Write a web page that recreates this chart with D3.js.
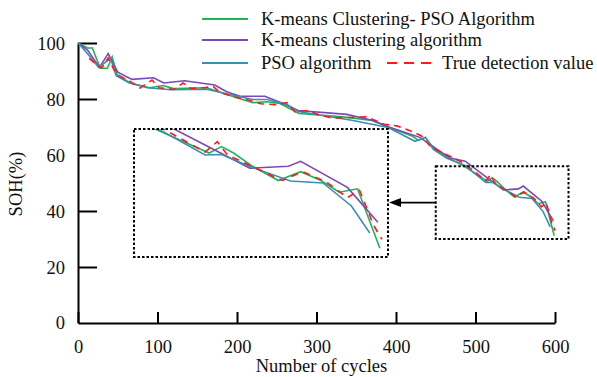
<!DOCTYPE html>
<html>
<head>
<meta charset="utf-8">
<script src="https://cdn.jsdelivr.net/npm/d3@7"></script>
<style>
  body { margin: 0; background: #fff; }
  text { font-family: "Liberation Serif", "Times New Roman", serif; fill: #111; }
  .axis path, .axis line { stroke: #000; stroke-width: 2; }
  .axis text { font-size: 18.5px; font-family: "Liberation Serif", serif; }
</style>
</head>
<body>
<svg id="chart"></svg>
<script>
// SOH estimates per cycle
const seriesNames = [
  "K-means Clustering- PSO Algorithm",
  "K-means clustering algorithm",
  "PSO algorithm",
  "True detection value",
];

const kmeansPso = [
  [0, 100], [12, 98.2], [18, 98.2], [28, 91], [37, 91], [43, 95], [49, 88.7],
  [65, 85.8], [90, 84], [107, 84.8], [120, 83.7], [162, 84], [195, 80.9],
  [220, 78.7], [238, 79], [254, 78.4], [278, 74.8], [333, 73.6], [370, 72.3],
  [390, 70], [421, 66.7], [428, 65.2], [437, 66.3], [447, 62.5], [464, 59.2],
  [484, 56.3], [515, 50.6], [521, 51.9], [527, 50.6], [536, 48], [549, 45],
  [560, 46.8], [570, 45], [579, 42.6], [588, 43.3], [599, 31.2],
];

const kmeans = [
  [0, 100], [12, 97.5], [27, 91.3], [38, 96.2], [50, 89.6], [68, 87], [95, 87.6],
  [108, 85.7], [134, 86.5], [172, 85], [187, 82.6], [204, 81], [235, 81],
  [258, 78.4], [277, 75.9], [338, 74.5], [371, 72.3], [392, 69.9], [430, 66.3],
  [468, 58.9], [487, 57.8], [522, 50.3], [535, 47.5], [554, 47.9], [560, 48.9],
  [583, 43.6], [598, 36.5],
];

const pso = [
  [0, 100], [11, 96.5], [26, 91.3], [41, 94.5], [48, 88.3], [64, 85.8], [87, 84],
  [117, 83.3], [162, 83.5], [191, 81.6], [220, 79.8], [238, 79.8], [263, 78],
  [277, 75.5], [346, 72.3], [390, 69.8], [424, 64.9], [437, 66.3], [447, 62],
  [464, 58.8], [486, 56.4], [513, 50.2], [521, 50.3], [536, 47.7], [555, 44.9],
  [571, 44.5], [585, 39.8], [594, 34.3],
];

const trueValue = [
  [14, 94.5], [25, 91.8], [30, 91.2], [38, 94.7], [45, 90.5], [52, 88.3],
  [66, 86.2], [78, 83.9], [93, 86.8], [102, 84], [121, 83.4], [132, 85.7],
  [142, 83.8], [158, 84], [170, 84.5], [178, 82.4], [195, 80.8], [212, 79.8],
  [230, 78.3], [248, 78], [263, 78.7], [273, 75.4], [289, 75.9], [303, 74.4],
  [319, 73.2], [340, 73.4], [363, 73.6], [385, 71], [401, 70.4], [421, 68.3],
  [432, 66.8], [444, 62.8], [459, 60.7], [472, 59], [488, 56.5], [513, 50.8],
  [519, 52.9], [524, 50.2], [536, 47.9], [551, 45], [561, 46.8], [573, 44.6],
  [583, 41.5], [589, 43], [596, 35.8], [600, 33],
];

const xTicks = [0, 100, 200, 300, 400, 500, 600];
const yTicks = [0, 20, 40, 60, 80, 100];

// zoom window (cycles / SOH) and its enlarged view
const zoomWindow = { x: [450, 617], y: [30, 56] };
const insetDomain = { x: [478, 603], y: [29.4, 55.5] };

const colors = ["#22b35a", "#7a48b8", "#3a90b0", "#ff1a1a"];
const allSeries = [kmeansPso, kmeans, pso, trueValue];

const width = 597, height = 377;
const margin = { top: 43, right: 42, bottom: 54, left: 78 };
const innerW = width - margin.left - margin.right;
const innerH = height - margin.top - margin.bottom;

const svg = d3.select("#chart").attr("width", width).attr("height", height);
const g = svg.append("g").attr("transform", `translate(${margin.left},${margin.top})`);

const x = d3.scaleLinear().domain([0, 600]).range([0, innerW]);
const y = d3.scaleLinear().domain([0, 100]).range([innerH, 0]);

// axes, ticks pointing inwards
g.append("g")
  .attr("class", "axis")
  .attr("transform", `translate(0,${innerH})`)
  .call(d3.axisBottom(x).tickValues(xTicks).tickSize(-11).tickSizeOuter(0).tickPadding(13))
  .call(a => a.selectAll("text").attr("dy", "0.9em"));

g.append("g")
  .attr("class", "axis")
  .call(d3.axisLeft(y).tickValues(yTicks.filter(d => d > 0)).tickSize(-19).tickSizeOuter(0).tickPadding(13))
  .call(a => a.selectAll("text").attr("dy", "0.35em"));

// "0" label on y axis (tick hidden under x axis)
g.append("text")
  .attr("x", -13).attr("y", y(0)).attr("dy", "0.35em")
  .attr("text-anchor", "end").style("font-size", "18.5px")
  .text("0");

g.append("text")
  .attr("x", innerW / 2 + 5).attr("y", innerH + 49)
  .attr("text-anchor", "middle").style("font-size", "18.5px")
  .text("Number of cycles");

g.append("text")
  .attr("transform", `translate(${-56},${innerH / 2 + 1}) rotate(-90)`)
  .attr("text-anchor", "middle").style("font-size", "18.5px")
  .text("SOH(%)");

const line = d3.line().x(d => x(d[0])).y(d => y(d[1]));

allSeries.forEach((s, i) => {
  g.append("path")
    .datum(s)
    .attr("fill", "none")
    .attr("stroke", colors[i])
    .attr("stroke-width", 1.6)
    .attr("stroke-dasharray", i === 3 ? "7,5" : null)
    .attr("d", line);
});

// small selection box on the main curves
const zx0 = x(zoomWindow.x[0]), zx1 = x(zoomWindow.x[1]);
const zy0 = y(zoomWindow.y[1]), zy1 = y(zoomWindow.y[0]);
g.append("rect")
  .attr("x", zx0).attr("y", zy0)
  .attr("width", zx1 - zx0).attr("height", zy1 - zy0)
  .attr("fill", "none").attr("stroke", "#000")
  .attr("stroke-width", 2).attr("stroke-dasharray", "2.5,2");

// inset box
const inset = { left: 134 - margin.left, top: 129 - margin.top, w: 254, h: 128 };
const ix = d3.scaleLinear().domain(insetDomain.x).range([inset.left, inset.left + inset.w]);
const iy = d3.scaleLinear().domain(insetDomain.y).range([inset.top + inset.h, inset.top]);

svg.append("defs").append("clipPath").attr("id", "inset-clip")
  .append("rect")
  .attr("x", inset.left).attr("y", inset.top)
  .attr("width", inset.w).attr("height", inset.h);

const insetLine = d3.line().x(d => ix(d[0])).y(d => iy(d[1]));
const insetG = g.append("g").attr("clip-path", "url(#inset-clip)");
allSeries.forEach((s, i) => {
  insetG.append("path")
    .datum(s)
    .attr("fill", "none")
    .attr("stroke", colors[i])
    .attr("stroke-width", 1.6)
    .attr("stroke-dasharray", i === 3 ? "7,6" : null)
    .attr("d", insetLine);
});

g.append("rect")
  .attr("x", inset.left).attr("y", inset.top)
  .attr("width", inset.w).attr("height", inset.h)
  .attr("fill", "none").attr("stroke", "#000")
  .attr("stroke-width", 2).attr("stroke-dasharray", "2.5,2");

// arrow from selection to inset
const arrowY = (zy0 + zy1) / 2;
const tipX = inset.left + inset.w + 1;
g.append("line")
  .attr("x1", zx0).attr("x2", tipX + 10)
  .attr("y1", arrowY).attr("y2", arrowY)
  .attr("stroke", "#000").attr("stroke-width", 1.6);
g.append("path")
  .attr("d", `M${tipX},${arrowY} L${tipX + 12},${arrowY - 4.5} L${tipX + 12},${arrowY + 4.5} Z`)
  .attr("fill", "#000");

// legend
const legendRows = [
  { x: 202, y: 19, i: 0 },
  { x: 202, y: 40, i: 1 },
  { x: 202, y: 63, i: 2 },
  { x: 387, y: 63, i: 3 },
];
const legend = svg.append("g");
legendRows.forEach(r => {
  legend.append("line")
    .attr("x1", r.x).attr("x2", r.x + 46)
    .attr("y1", r.y).attr("y2", r.y)
    .attr("stroke", colors[r.i]).attr("stroke-width", 2)
    .attr("stroke-dasharray", r.i === 3 ? "10,7" : null);
  legend.append("text")
    .attr("x", r.x + (r.i === 3 ? 55 : 59)).attr("y", r.y + 6)
    .style("font-size", "18.5px")
    .text(seriesNames[r.i]);
});
</script>
</body>
</html>
